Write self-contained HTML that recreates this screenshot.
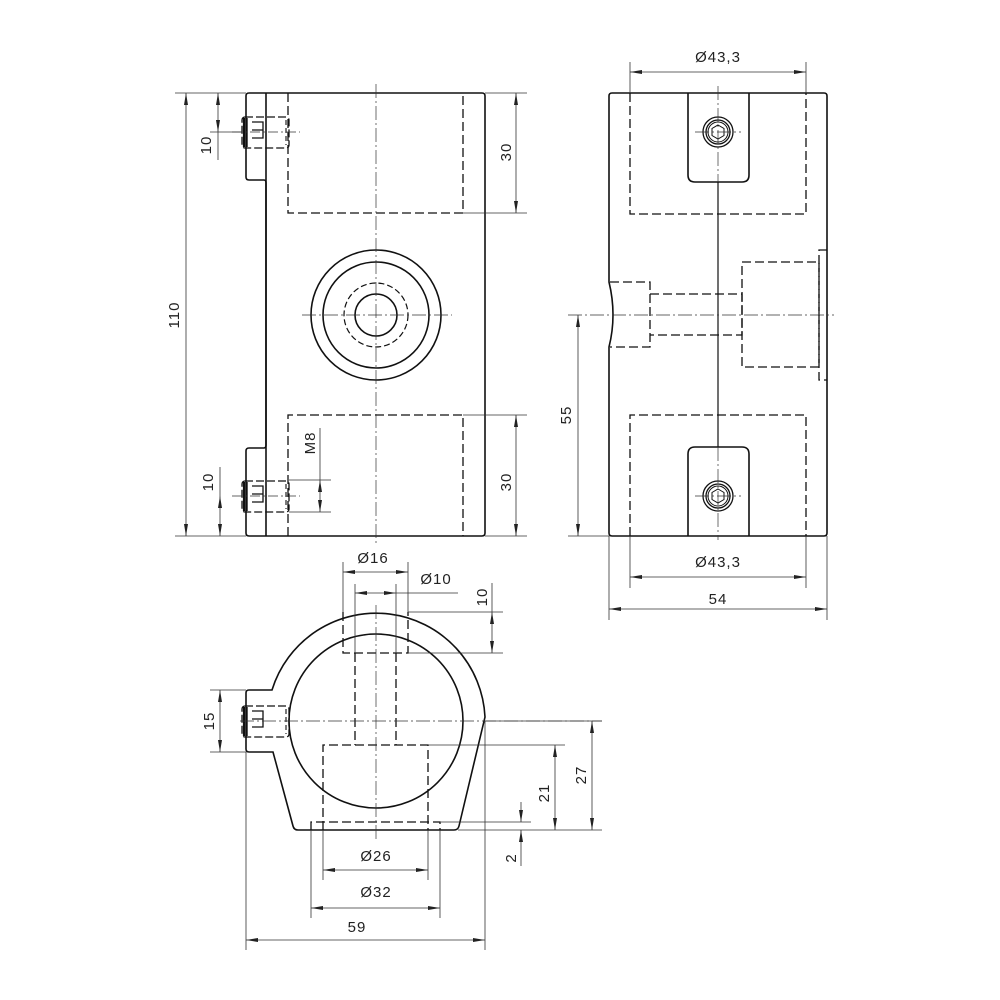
<!DOCTYPE html>
<html><head><meta charset="utf-8"><style>
html,body{margin:0;padding:0;background:#fff}
svg{display:block}
text{font-family:"Liberation Sans",sans-serif;font-size:15px;fill:#222;letter-spacing:1px}
</style></head><body>
<svg width="1000" height="1000" viewBox="0 0 1000 1000" xmlns="http://www.w3.org/2000/svg">
<defs>
<marker id="a" viewBox="0 0 12 4" refX="12" refY="2" markerWidth="12" markerHeight="4" markerUnits="userSpaceOnUse" orient="auto-start-reverse"><path d="M0,0 L12,2 L0,4 z" fill="#222"/></marker>
</defs>
<g fill="none" stroke="#111">
<!-- ===== FRONT VIEW ===== -->
<g stroke-width="1.6">
<path d="M249,93 H482 Q485,93 485,96 V533 Q485,536 482,536 H249 Q246,536 246,533 V451 Q246,448 249,448 H264 Q266,448 266,445 V183 Q266,180 264,180 H249 Q246,180 246,177 V96 Q246,93 249,93 Z"/>
<line x1="266" y1="93" x2="266" y2="536"/>
<circle cx="376" cy="315" r="65"/>
<circle cx="376" cy="315" r="53"/>
<circle cx="376" cy="315" r="21"/>
</g>
<circle cx="376" cy="315" r="32" stroke-width="1.2" stroke-dasharray="6,3"/>
<g stroke-width="1.3" stroke-dasharray="9,4">
<path d="M288,93 V213 H463 V93"/>
<path d="M288,536 V415 H463 V536"/>
</g>
<g stroke-width="0.7" stroke="#333" stroke-dasharray="14,3,2,3">
<line x1="376" y1="84" x2="376" y2="545"/>
<line x1="302" y1="315" x2="452" y2="315"/>
</g>
<!-- screws front -->
<g id="scr">
<rect x="242" y="117" width="47" height="31" rx="3" stroke-width="1.3" stroke-dasharray="8,3"/>
<line x1="244" y1="118" x2="244" y2="147" stroke-width="2.2"/>
<line x1="247" y1="118" x2="247" y2="147" stroke-width="1.4"/>
<path d="M252,122 H263 V130 H252 M263,130 V138 H252" stroke-width="1.3"/>
<line x1="286" y1="120" x2="286" y2="145" stroke-width="1.1" stroke-dasharray="5,3"/>
</g>
<use href="#scr" transform="translate(0,364)"/>
<g stroke-width="0.7" stroke="#333">
<line x1="232" y1="132" x2="300" y2="132" stroke-dasharray="10,3,2,3"/>
<line x1="232" y1="496" x2="300" y2="496" stroke-dasharray="10,3,2,3"/>
</g>
<!-- dims front -->
<g stroke-width="0.8" stroke="#333">
<line x1="175" y1="93" x2="246" y2="93"/><line x1="175" y1="536" x2="246" y2="536"/>
<line x1="186" y1="93" x2="186" y2="536" marker-start="url(#a)" marker-end="url(#a)"/>
<line x1="210" y1="132" x2="242" y2="132"/>
<line x1="218" y1="93" x2="218" y2="132" marker-start="url(#a)" marker-end="url(#a)"/>
<line x1="218" y1="132" x2="218" y2="160"/>
<line x1="220" y1="496" x2="220" y2="536" marker-start="url(#a)" marker-end="url(#a)"/>
<line x1="220" y1="467" x2="220" y2="496"/>
<line x1="485" y1="93" x2="527" y2="93"/><line x1="463" y1="213" x2="527" y2="213"/>
<line x1="516" y1="93" x2="516" y2="213" marker-start="url(#a)" marker-end="url(#a)"/>
<line x1="463" y1="415" x2="527" y2="415"/><line x1="485" y1="536" x2="527" y2="536"/>
<line x1="516" y1="415" x2="516" y2="536" marker-start="url(#a)" marker-end="url(#a)"/>
<line x1="289" y1="480" x2="331" y2="480"/><line x1="289" y1="512" x2="331" y2="512"/>
<line x1="320" y1="428" x2="320" y2="480"/>
<line x1="320" y1="480" x2="320" y2="512" marker-start="url(#a)" marker-end="url(#a)"/>
</g>

<!-- ===== SIDE VIEW ===== -->
<g stroke-width="1.6">
<path d="M612,93 H824 Q827,93 827,96 V533 Q827,536 824,536 H612 Q609,536 609,533 V347 Q617,315 609,282 V96 Q609,93 612,93 Z"/>
<path d="M688,93 V175 Q688,182 695,182 H742 Q749,182 749,175 V93"/>
<path d="M688,536 V454 Q688,447 695,447 H742 Q749,447 749,454 V536"/>
</g>
<line x1="718" y1="182" x2="718" y2="447" stroke-width="1.2"/>
<g stroke-width="1.3">
<circle cx="718" cy="132" r="15"/><circle cx="718" cy="132" r="12"/><circle cx="718" cy="132" r="10" stroke-width="1"/>
<path d="M718,125 L724,128.5 L724,135.5 L718,139 L712,135.5 L712,128.5 Z" stroke-width="1"/>
<circle cx="718" cy="496" r="15"/><circle cx="718" cy="496" r="12"/><circle cx="718" cy="496" r="10" stroke-width="1"/>
<path d="M718,489 L724,492.5 L724,499.5 L718,503 L712,499.5 L712,492.5 Z" stroke-width="1"/>
</g>
<g stroke-width="1.3" stroke-dasharray="9,4">
<path d="M630,93 V214 H806 V93"/>
<path d="M630,536 V415 H806 V536"/>
<path d="M610,282 H650 V347 H610"/>
<path d="M650,294 H742 V335 H650"/>
<path d="M742,262 H819 V367 H742 Z"/>
<path d="M827,250 H819 V380 H827"/>
</g>
<g stroke-width="0.7" stroke="#333" stroke-dasharray="14,3,2,3">
<line x1="568" y1="315" x2="834" y2="315"/>
<line x1="718" y1="86" x2="718" y2="182"/>
<line x1="718" y1="447" x2="718" y2="540"/>
<line x1="695" y1="132" x2="741" y2="132"/>
<line x1="695" y1="496" x2="741" y2="496"/>
</g>
<g stroke-width="0.8" stroke="#333">
<line x1="630" y1="62" x2="630" y2="93"/><line x1="806" y1="62" x2="806" y2="93"/>
<line x1="630" y1="72" x2="806" y2="72" marker-start="url(#a)" marker-end="url(#a)"/>
<line x1="630" y1="536" x2="630" y2="588"/><line x1="806" y1="536" x2="806" y2="588"/>
<line x1="630" y1="577" x2="806" y2="577" marker-start="url(#a)" marker-end="url(#a)"/>
<line x1="609" y1="536" x2="609" y2="620"/><line x1="827" y1="536" x2="827" y2="620"/>
<line x1="609" y1="609" x2="827" y2="609" marker-start="url(#a)" marker-end="url(#a)"/>
<line x1="568" y1="536" x2="609" y2="536"/>
<line x1="578" y1="315" x2="578" y2="536" marker-start="url(#a)" marker-end="url(#a)"/>
</g>

<!-- ===== BOTTOM VIEW ===== -->
<g stroke-width="1.6">
<path d="M272,690 A109,109 0 0 1 485,717 L459,826 Q458,830 454,830 H298 Q294,830 293,826 L273,752 H249 Q246,752 246,749 V693 Q246,690 249,690 Z"/>
<circle cx="376" cy="721" r="87"/>
</g>
<g stroke-width="1.3" stroke-dasharray="9,4">
<path d="M343,612 V653 H408 V612"/>
<path d="M355,653 V745 M396,653 V745"/>
<path d="M323,830 V745 H428 V830"/>
<path d="M311,830 V822 H440 V830"/>
</g>
<g transform="translate(0,589)">
<rect x="242" y="117" width="47" height="31" rx="3" stroke-width="1.3" stroke-dasharray="8,3"/>
<line x1="244" y1="118" x2="244" y2="147" stroke-width="2.2"/>
<line x1="247" y1="118" x2="247" y2="147" stroke-width="1.4"/>
<path d="M252,122 H263 V130 H252 M263,130 V138 H252" stroke-width="1.3"/>
<line x1="286" y1="120" x2="286" y2="145" stroke-width="1.1" stroke-dasharray="5,3"/>
</g>
<g stroke-width="0.7" stroke="#333" stroke-dasharray="14,3,2,3">
<line x1="240" y1="721" x2="602" y2="721"/>
<line x1="376" y1="605" x2="376" y2="840"/>
</g>
<g stroke-width="0.8" stroke="#333">
<line x1="343" y1="562" x2="343" y2="612"/><line x1="408" y1="562" x2="408" y2="612"/>
<line x1="343" y1="572" x2="408" y2="572" marker-start="url(#a)" marker-end="url(#a)"/>
<line x1="355" y1="584" x2="355" y2="653"/><line x1="396" y1="584" x2="396" y2="653"/>
<line x1="355" y1="593" x2="396" y2="593" marker-start="url(#a)" marker-end="url(#a)"/>
<line x1="396" y1="593" x2="458" y2="593"/>
<line x1="408" y1="612" x2="503" y2="612"/><line x1="408" y1="653" x2="503" y2="653"/>
<line x1="492" y1="583" x2="492" y2="612"/>
<line x1="492" y1="612" x2="492" y2="653" marker-start="url(#a)" marker-end="url(#a)"/>
<line x1="210" y1="690" x2="246" y2="690"/><line x1="210" y1="752" x2="246" y2="752"/>
<line x1="220" y1="690" x2="220" y2="752" marker-start="url(#a)" marker-end="url(#a)"/>
<line x1="485" y1="721" x2="602" y2="721"/>
<line x1="458" y1="830" x2="602" y2="830"/>
<line x1="592" y1="721" x2="592" y2="830" marker-start="url(#a)" marker-end="url(#a)"/>
<line x1="428" y1="745" x2="565" y2="745"/>
<line x1="555" y1="745" x2="555" y2="830" marker-start="url(#a)" marker-end="url(#a)"/>
<line x1="440" y1="822" x2="531" y2="822"/>
<line x1="521" y1="802" x2="521" y2="822" marker-end="url(#a)"/>
<line x1="521" y1="866" x2="521" y2="830" marker-end="url(#a)"/>
<line x1="323" y1="830" x2="323" y2="880"/><line x1="428" y1="830" x2="428" y2="880"/>
<line x1="323" y1="870" x2="428" y2="870" marker-start="url(#a)" marker-end="url(#a)"/>
<line x1="311" y1="830" x2="311" y2="918"/><line x1="440" y1="830" x2="440" y2="918"/>
<line x1="311" y1="908" x2="440" y2="908" marker-start="url(#a)" marker-end="url(#a)"/>
<line x1="246" y1="752" x2="246" y2="950"/><line x1="485" y1="721" x2="485" y2="950"/>
<line x1="246" y1="940" x2="485" y2="940" marker-start="url(#a)" marker-end="url(#a)"/>
</g>
</g>

<!-- TEXT -->
<g>
<text transform="translate(179,315) rotate(-90)" text-anchor="middle">110</text>
<text transform="translate(211,145) rotate(-90)" text-anchor="middle">10</text>
<text transform="translate(213,482) rotate(-90)" text-anchor="middle">10</text>
<text transform="translate(511,152) rotate(-90)" text-anchor="middle">30</text>
<text transform="translate(511,482) rotate(-90)" text-anchor="middle">30</text>
<text transform="translate(315,443) rotate(-90)" text-anchor="middle">M8</text>
<text x="718" y="62" text-anchor="middle">Ø43,3</text>
<text x="718" y="567" text-anchor="middle">Ø43,3</text>
<text x="718" y="604" text-anchor="middle">54</text>
<text transform="translate(571,415) rotate(-90)" text-anchor="middle">55</text>
<text x="373" y="563" text-anchor="middle">Ø16</text>
<text x="436" y="584" text-anchor="middle">Ø10</text>
<text transform="translate(487,597) rotate(-90)" text-anchor="middle">10</text>
<text transform="translate(214,721) rotate(-90)" text-anchor="middle">15</text>
<text transform="translate(586,775) rotate(-90)" text-anchor="middle">27</text>
<text transform="translate(549,793) rotate(-90)" text-anchor="middle">21</text>
<text transform="translate(516,858) rotate(-90)" text-anchor="middle">2</text>
<text x="376" y="861" text-anchor="middle">Ø26</text>
<text x="376" y="897" text-anchor="middle">Ø32</text>
<text x="357" y="932" text-anchor="middle">59</text>
</g>
</svg>
</body></html>
